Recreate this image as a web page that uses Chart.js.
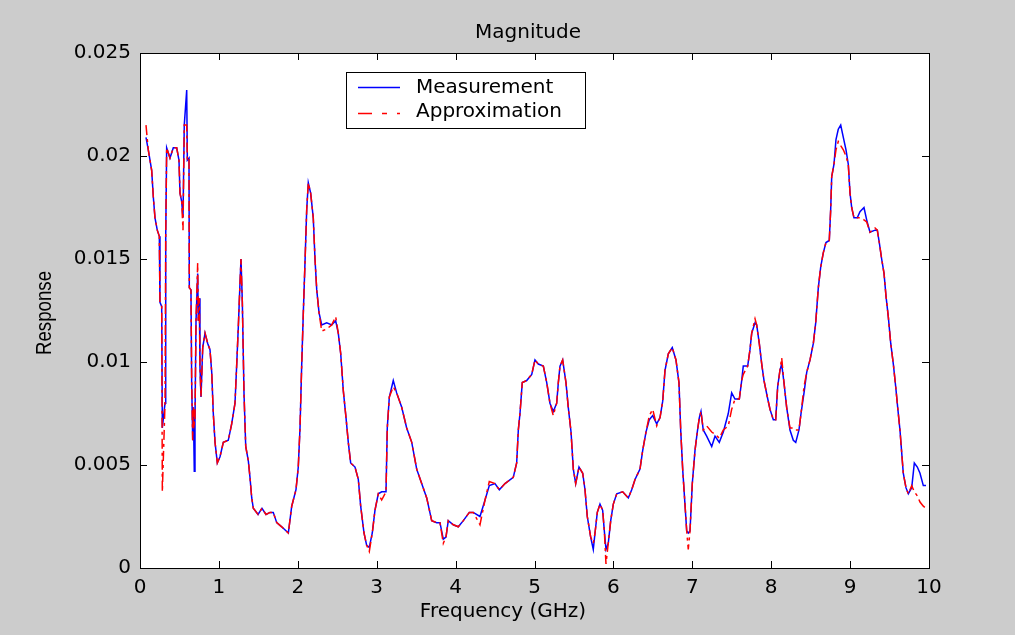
<!DOCTYPE html>
<html>
<head>
<meta charset="utf-8">
<script src="https://cdn.jsdelivr.net/npm/chart.js@4.4.1/dist/chart.umd.min.js"></script>
<style>
    html, body { margin: 0; padding: 0; background: #cccccc; }
    #magChart { display: block; }
</style>
</head>
<body>
<canvas id="magChart" width="1015" height="635"></canvas>
<script>
// Frequency samples (GHz)
const freq = [
    0.076, 0.105, 0.148, 0.169, 0.190, 0.219, 0.245, 0.253, 0.275, 0.283,
    0.317, 0.326, 0.338, 0.380, 0.422, 0.465, 0.494, 0.507, 0.528, 0.545,
    0.561, 0.592, 0.600, 0.621, 0.625, 0.646, 0.655, 0.668, 0.676, 0.688,
    0.697, 0.710, 0.731, 0.739, 0.752, 0.760, 0.773, 0.795, 0.824, 0.858,
    0.887, 0.909, 0.929, 0.951, 0.980, 1.014, 1.056, 1.119, 1.162, 1.204,
    1.226, 1.246, 1.267, 1.280, 1.297, 1.318, 1.340, 1.373, 1.394, 1.416,
    1.436, 1.496, 1.546, 1.597, 1.648, 1.689, 1.733, 1.796, 1.880, 1.923,
    1.977, 2.006, 2.028, 2.049, 2.070, 2.091, 2.113, 2.133, 2.163, 2.196,
    2.218, 2.240, 2.269, 2.303, 2.366, 2.430, 2.480, 2.513, 2.544, 2.577,
    2.611, 2.640, 2.670, 2.725, 2.767, 2.797, 2.839, 2.873, 2.906, 2.944,
    2.978, 3.020, 3.063, 3.118, 3.134, 3.160, 3.210, 3.253, 3.317, 3.380,
    3.444, 3.507, 3.570, 3.634, 3.697, 3.760, 3.802, 3.844, 3.878, 3.907,
    3.971, 4.034, 4.098, 4.174, 4.224, 4.309, 4.373, 4.427, 4.499, 4.554,
    4.626, 4.731, 4.774, 4.795, 4.816, 4.845, 4.901, 4.965, 5.006, 5.048,
    5.112, 5.155, 5.196, 5.238, 5.281, 5.302, 5.323, 5.357, 5.399, 5.428,
    5.463, 5.492, 5.522, 5.564, 5.611, 5.640, 5.669, 5.712, 5.745, 5.767,
    5.796, 5.830, 5.864, 5.885, 5.906, 5.935, 5.966, 5.999, 6.042, 6.118,
    6.189, 6.232, 6.274, 6.337, 6.371, 6.413, 6.455, 6.498, 6.549, 6.591,
    6.625, 6.654, 6.696, 6.746, 6.793, 6.831, 6.853, 6.878, 6.907, 6.929,
    6.949, 6.971, 7.000, 7.034, 7.063, 7.089, 7.110, 7.139, 7.182, 7.246,
    7.288, 7.342, 7.393, 7.456, 7.499, 7.541, 7.596, 7.626, 7.646, 7.702,
    7.731, 7.753, 7.795, 7.816, 7.849, 7.880, 7.909, 7.951, 7.985, 8.027,
    8.057, 8.082, 8.111, 8.133, 8.162, 8.196, 8.238, 8.280, 8.311, 8.352,
    8.378, 8.416, 8.450, 8.492, 8.534, 8.564, 8.597, 8.627, 8.660, 8.694,
    8.736, 8.754, 8.767, 8.796, 8.821, 8.850, 8.881, 8.914, 8.948, 8.977,
    8.999, 9.020, 9.049, 9.091, 9.125, 9.176, 9.210, 9.252, 9.316, 9.345,
    9.370, 9.400, 9.430, 9.455, 9.484, 9.515, 9.548, 9.578, 9.603, 9.632,
    9.654, 9.674, 9.708, 9.738, 9.781, 9.814, 9.852, 9.886, 9.928, 9.962
];

// Measured response (blue solid line)
const measurement = [
    0.0209, 0.0203, 0.0193, 0.0180, 0.0170, 0.0164, 0.0161, 0.0129, 0.0127, 0.0068,
    0.0080, 0.0161, 0.0204, 0.0199, 0.0204, 0.0204, 0.0198, 0.0182, 0.0178, 0.0170,
    0.0215, 0.0232, 0.0198, 0.0199, 0.0136, 0.0135, 0.0090, 0.0062, 0.0078, 0.0047,
    0.0072, 0.0120, 0.0143, 0.0120, 0.0131, 0.0098, 0.0083, 0.0107, 0.0114, 0.0109,
    0.0106, 0.0095, 0.0075, 0.0061, 0.0051, 0.0054, 0.0061, 0.0062, 0.0070, 0.0080,
    0.0099, 0.0117, 0.0138, 0.0150, 0.0129, 0.0085, 0.0059, 0.0052, 0.0044, 0.0034,
    0.0029, 0.0026, 0.0029, 0.0026, 0.0027, 0.0027, 0.0022, 0.0020, 0.0017, 0.0030,
    0.0038, 0.0049, 0.0068, 0.0098, 0.0124, 0.0148, 0.0174, 0.0187, 0.0182, 0.0170,
    0.0150, 0.0135, 0.0124, 0.0118, 0.0119, 0.0118, 0.0120, 0.0114, 0.0104, 0.0086,
    0.0073, 0.0061, 0.0051, 0.0049, 0.0043, 0.0030, 0.0017, 0.0011, 0.0010, 0.0017,
    0.0028, 0.0036, 0.0037, 0.0037, 0.0068, 0.0083, 0.0091, 0.0085, 0.0078, 0.0068,
    0.0061, 0.0048, 0.0041, 0.0034, 0.0023, 0.0022, 0.0022, 0.0014, 0.0015, 0.0023,
    0.0021, 0.0020, 0.0023, 0.0027, 0.0027, 0.0025, 0.0033, 0.0040, 0.0041, 0.0038,
    0.0041, 0.0044, 0.0051, 0.0067, 0.0075, 0.0090, 0.0091, 0.0094, 0.0101, 0.0099,
    0.0098, 0.0090, 0.0080, 0.0076, 0.0080, 0.0090, 0.0098, 0.0101, 0.0090, 0.0078,
    0.0066, 0.0048, 0.0041, 0.0049, 0.0046, 0.0038, 0.0025, 0.0015, 0.0009, 0.0017,
    0.0027, 0.0031, 0.0028, 0.0018, 0.0009, 0.0012, 0.0023, 0.0031, 0.0036, 0.0037,
    0.0034, 0.0038, 0.0043, 0.0048, 0.0057, 0.0066, 0.0072, 0.0074, 0.0070, 0.0073,
    0.0081, 0.0096, 0.0104, 0.0107, 0.0101, 0.0090, 0.0067, 0.0048, 0.0031, 0.0018,
    0.0017, 0.0018, 0.0041, 0.0057, 0.0066, 0.0073, 0.0076, 0.0067, 0.0064, 0.0059,
    0.0064, 0.0061, 0.0066, 0.0075, 0.0085, 0.0082, 0.0082, 0.0091, 0.0098, 0.0098,
    0.0106, 0.0114, 0.0119, 0.0118, 0.0109, 0.0099, 0.0091, 0.0083, 0.0077, 0.0072,
    0.0072, 0.0088, 0.0096, 0.0099, 0.0090, 0.0078, 0.0067, 0.0062, 0.0061, 0.0067,
    0.0075, 0.0085, 0.0095, 0.0101, 0.0109, 0.0119, 0.0136, 0.0146, 0.0153, 0.0158,
    0.0159, 0.0174, 0.0190, 0.0196, 0.0208, 0.0213, 0.0215, 0.0209, 0.0203, 0.0196,
    0.0182, 0.0175, 0.0170, 0.0170, 0.0173, 0.0175, 0.0169, 0.0163, 0.0164, 0.0164,
    0.0158, 0.0150, 0.0143, 0.0132, 0.0122, 0.0109, 0.0099, 0.0088, 0.0078, 0.0067,
    0.0056, 0.0046, 0.0039, 0.0036, 0.0039, 0.0051, 0.0049, 0.0046, 0.0040, 0.0040
];

// Model approximation (red dash-dot line)
const approximation = [
    0.0215, 0.0203, 0.0193, 0.0180, 0.0170, 0.0164, 0.0161, 0.0129, 0.0127, 0.0037,
    0.0080, 0.0161, 0.0204, 0.0199, 0.0204, 0.0204, 0.0198, 0.0182, 0.0178, 0.0164,
    0.0215, 0.0215, 0.0198, 0.0199, 0.0136, 0.0135, 0.0090, 0.0062, 0.0078, 0.0070,
    0.0072, 0.0120, 0.0148, 0.0120, 0.0131, 0.0098, 0.0083, 0.0107, 0.0114, 0.0109,
    0.0106, 0.0095, 0.0075, 0.0061, 0.0051, 0.0054, 0.0061, 0.0062, 0.0070, 0.0080,
    0.0099, 0.0117, 0.0138, 0.0150, 0.0129, 0.0085, 0.0059, 0.0052, 0.0044, 0.0034,
    0.0029, 0.0026, 0.0029, 0.0026, 0.0027, 0.0027, 0.0022, 0.0020, 0.0017, 0.0030,
    0.0038, 0.0049, 0.0068, 0.0098, 0.0124, 0.0148, 0.0174, 0.0187, 0.0182, 0.0170,
    0.0150, 0.0135, 0.0124, 0.0115, 0.0116, 0.0118, 0.0122, 0.0114, 0.0104, 0.0086,
    0.0073, 0.0061, 0.0051, 0.0049, 0.0043, 0.0030, 0.0017, 0.0011, 0.0008, 0.0017,
    0.0028, 0.0036, 0.0033, 0.0037, 0.0068, 0.0083, 0.0088, 0.0085, 0.0078, 0.0068,
    0.0061, 0.0048, 0.0041, 0.0034, 0.0023, 0.0022, 0.0022, 0.0012, 0.0015, 0.0023,
    0.0021, 0.0020, 0.0023, 0.0027, 0.0027, 0.0021, 0.0033, 0.0042, 0.0041, 0.0038,
    0.0041, 0.0044, 0.0051, 0.0067, 0.0075, 0.0090, 0.0091, 0.0094, 0.0101, 0.0099,
    0.0098, 0.0090, 0.0080, 0.0074, 0.0080, 0.0090, 0.0098, 0.0101, 0.0090, 0.0078,
    0.0066, 0.0048, 0.0041, 0.0049, 0.0046, 0.0038, 0.0025, 0.0015, 0.0012, 0.0017,
    0.0027, 0.0031, 0.0028, 0.0018, 0.0002, 0.0012, 0.0023, 0.0031, 0.0036, 0.0037,
    0.0034, 0.0038, 0.0043, 0.0048, 0.0057, 0.0066, 0.0074, 0.0077, 0.0069, 0.0073,
    0.0081, 0.0096, 0.0104, 0.0107, 0.0101, 0.0090, 0.0067, 0.0048, 0.0031, 0.0018,
    0.0009, 0.0018, 0.0041, 0.0057, 0.0066, 0.0073, 0.0076, 0.0067, 0.0069, 0.0066,
    0.0065, 0.0063, 0.0067, 0.0069, 0.0077, 0.0082, 0.0082, 0.0091, 0.0094, 0.0098,
    0.0106, 0.0114, 0.0121, 0.0118, 0.0109, 0.0099, 0.0091, 0.0083, 0.0077, 0.0072,
    0.0072, 0.0088, 0.0096, 0.0102, 0.0090, 0.0078, 0.0068, 0.0068, 0.0067, 0.0067,
    0.0075, 0.0088, 0.0095, 0.0101, 0.0109, 0.0119, 0.0136, 0.0146, 0.0153, 0.0158,
    0.0159, 0.0174, 0.0190, 0.0196, 0.0203, 0.0207, 0.0205, 0.0203, 0.0200, 0.0196,
    0.0182, 0.0175, 0.0170, 0.0170, 0.0170, 0.0169, 0.0168, 0.0163, 0.0165, 0.0164,
    0.0158, 0.0150, 0.0143, 0.0132, 0.0122, 0.0109, 0.0099, 0.0088, 0.0078, 0.0067,
    0.0056, 0.0046, 0.0039, 0.0036, 0.0040, 0.0037, 0.0035, 0.0032, 0.0030, 0.0029
];

const xTicks = [0, 1, 2, 3, 4, 5, 6, 7, 8, 9, 10];
const xTickLabels = ['0', '1', '2', '3', '4', '5', '6', '7', '8', '9', '10'];
const yTicks = [0, 0.005, 0.01, 0.015, 0.02, 0.025];
const yTickLabels = ['0', '0.005', '0.01', '0.015', '0.02', '0.025'];

const FONT = "'DejaVu Sans', Verdana, sans-serif";
const RED_DASH = [10, 4, 3, 4];

function toPoints(values) {
    return values.map((v, i) => ({ x: freq[i], y: v }));
}

// MATLAB-style figure: grey background, white axes box, inward ticks on all four sides,
// title, axis labels and a boxed legend inside the axes
const matlabFrame = {
    id: 'matlabFrame',
    beforeDraw(chart) {
        const { ctx, chartArea: a } = chart;
        ctx.save();
        ctx.fillStyle = '#cccccc';
        ctx.fillRect(0, 0, chart.width, chart.height);
        ctx.fillStyle = '#ffffff';
        ctx.fillRect(a.left, a.top, a.right - a.left, a.bottom - a.top);
        ctx.restore();
    },
    afterDraw(chart) {
        const { ctx, chartArea: a } = chart;
        const xs = chart.scales.x;
        const ys = chart.scales.y;
        const tick = 7;
        ctx.save();
        ctx.strokeStyle = '#000000';
        ctx.lineWidth = 1;

        ctx.beginPath();
        xTicks.forEach(v => {
            const px = Math.round(xs.getPixelForValue(v)) + 0.5;
            ctx.moveTo(px, a.bottom);
            ctx.lineTo(px, a.bottom - tick);
            ctx.moveTo(px, a.top);
            ctx.lineTo(px, a.top + tick);
        });
        yTicks.forEach(v => {
            const py = Math.round(ys.getPixelForValue(v)) + 0.5;
            ctx.moveTo(a.left, py);
            ctx.lineTo(a.left + tick, py);
            ctx.moveTo(a.right, py);
            ctx.lineTo(a.right - tick, py);
        });
        ctx.stroke();
        ctx.strokeRect(Math.round(a.left) + 0.5, Math.round(a.top) + 0.5,
            Math.round(a.right - a.left), Math.round(a.bottom - a.top));

        // texts
        ctx.fillStyle = '#000000';
        ctx.font = '20px ' + FONT;
        ctx.textAlign = 'center';
        ctx.textBaseline = 'middle';
        ctx.fillText('Magnitude', 528, 33);
        ctx.fillText('Frequency (GHz)', 503, 612);
        ctx.save();
        ctx.translate(45, 313);
        ctx.rotate(-Math.PI / 2);
        ctx.scale(0.85, 1);
        ctx.font = "22px 'Liberation Sans', Arial, sans-serif";
        ctx.fillText('Response', 0, 0);
        ctx.restore();

        // legend
        const lx = 346, ly = 72, lw = 239, lh = 56;
        ctx.fillStyle = '#ffffff';
        ctx.fillRect(lx, ly, lw, lh);
        ctx.strokeRect(lx + 0.5, ly + 0.5, lw, lh);
        ctx.lineWidth = 1.5;
        ctx.strokeStyle = '#0000ff';
        ctx.beginPath();
        ctx.moveTo(358, 87.5);
        ctx.lineTo(400, 87.5);
        ctx.stroke();
        ctx.strokeStyle = '#ff0000';
        ctx.setLineDash([14, 10, 5, 10]);
        ctx.beginPath();
        ctx.moveTo(358, 113.5);
        ctx.lineTo(400, 113.5);
        ctx.stroke();
        ctx.setLineDash([]);
        ctx.fillStyle = '#000000';
        ctx.textAlign = 'left';
        ctx.fillText('Measurement', 416, 88);
        ctx.fillText('Approximation', 416, 112);
        ctx.restore();
    }
};

const ctx = document.getElementById('magChart').getContext('2d');
new Chart(ctx, {
    type: 'line',
    data: {
        datasets: [
            {
                label: 'Measurement',
                data: toPoints(measurement),
                borderColor: '#0000ff',
                borderWidth: 1.5,
                pointRadius: 0,
                tension: 0,
                order: 2
            },
            {
                label: 'Approximation',
                data: toPoints(approximation),
                borderColor: '#ff0000',
                borderWidth: 1.5,
                borderDash: RED_DASH,
                pointRadius: 0,
                tension: 0,
                order: 1
            }
        ]
    },
    options: {
        responsive: false,
        animation: false,
        devicePixelRatio: 1,
        layout: {
            padding: { top: 53, right: 86, bottom: 0, left: 0 }
        },
        plugins: {
            legend: { display: false },
            tooltip: { enabled: false },
            title: { display: false }
        },
        scales: {
            x: {
                type: 'linear',
                min: 0,
                max: 10,
                grid: { display: false, drawTicks: false },
                border: { display: false },
                afterBuildTicks: scale => {
                    scale.ticks = xTicks.map(v => ({ value: v }));
                },
                afterFit: scale => {
                    scale.height = 67;
                },
                ticks: {
                    padding: 8,
                    color: '#000000',
                    maxRotation: 0,
                    autoSkip: false,
                    font: { family: FONT, size: 20 },
                    callback: (value, index) => xTickLabels[index]
                }
            },
            y: {
                type: 'linear',
                min: 0,
                max: 0.025,
                grid: { display: false, drawTicks: false },
                border: { display: false },
                afterBuildTicks: scale => {
                    scale.ticks = yTicks.map(v => ({ value: v }));
                },
                afterFit: scale => {
                    scale.width = 140;
                },
                ticks: {
                    padding: 9,
                    color: '#000000',
                    autoSkip: false,
                    font: { family: FONT, size: 20 },
                    callback: (value, index) => yTickLabels[index]
                }
            }
        }
    },
    plugins: [matlabFrame]
});
</script>
</body>
</html>
